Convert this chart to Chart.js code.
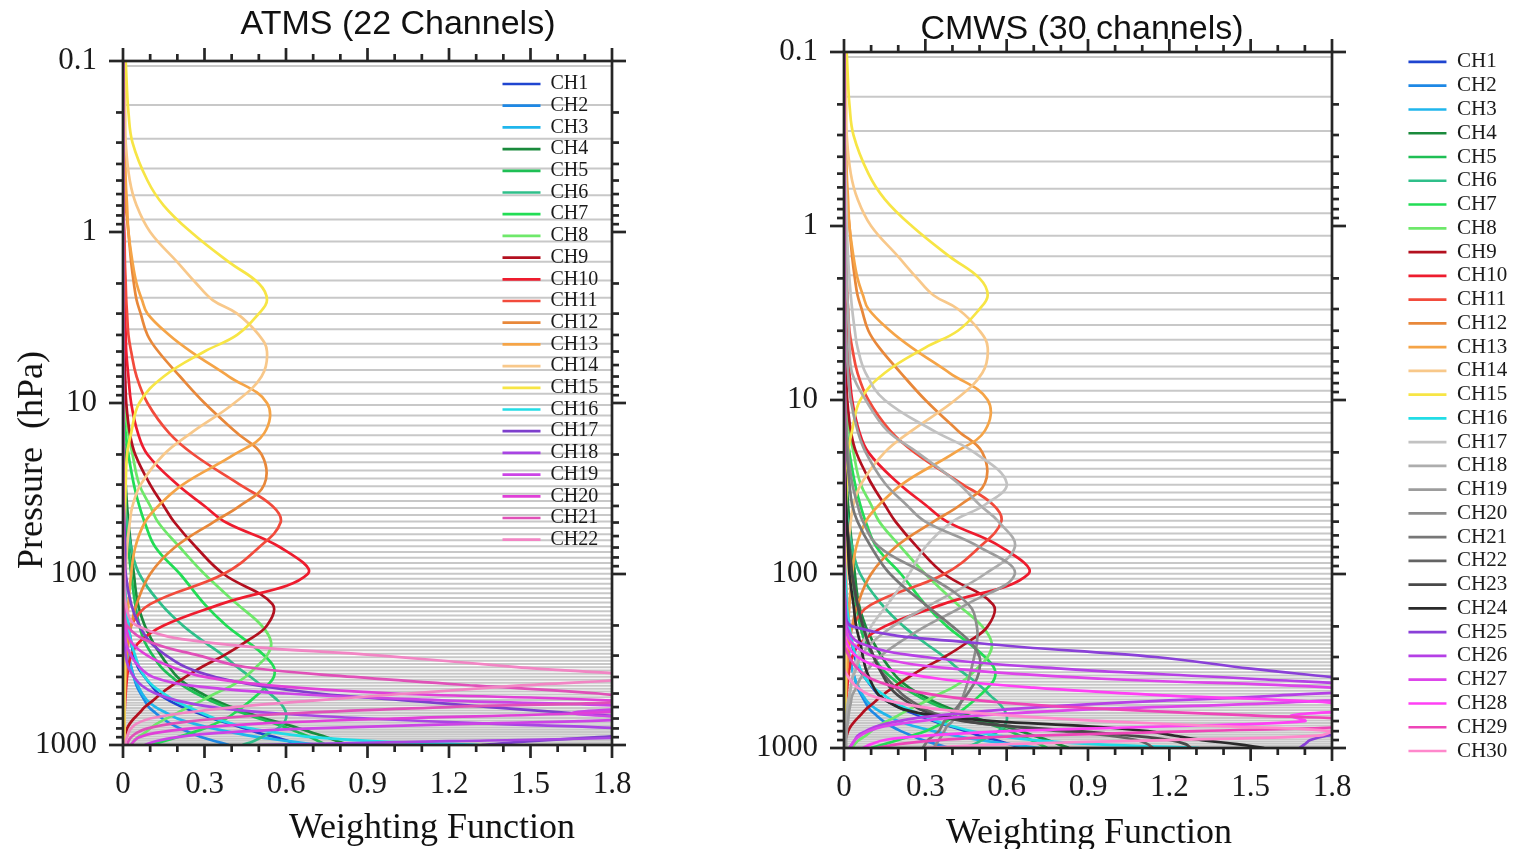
<!DOCTYPE html>
<html>
<head>
<meta charset="utf-8">
<script src="https://cdn.jsdelivr.net/npm/chart.js@4.4.1/dist/chart.umd.min.js"></script>
<style>
  html,body{margin:0;padding:0;background:#fff;}
  body{width:1517px;height:849px;position:relative;overflow:hidden;}
  canvas{position:absolute;top:0;}
  .t{position:absolute;transform:translate(-50%,-50%);line-height:1;white-space:pre;color:#111;}
  .sans{font-family:"Liberation Sans",Arial,sans-serif;}
  .serif{font-family:"Liberation Serif","Times New Roman",serif;}
</style>
</head>
<body>
<canvas id="c1" width="660" height="849" style="left:0px"></canvas>
<canvas id="c2" width="817" height="849" style="left:700px"></canvas>
<div class="t sans" style="left:398px;top:22px;font-size:34px">ATMS (22 Channels)</div>
<div class="t sans" style="left:1082px;top:27px;font-size:34px">CMWS (30 channels)</div>
<div class="t serif" style="left:30px;top:460px;font-size:36px;transform:translate(-50%,-50%) rotate(-90deg)">Pressure  (hPa)</div>
<div class="t serif" style="left:432px;top:826px;font-size:36px">Weighting Function</div>
<div class="t serif" style="left:1089px;top:831px;font-size:36px">Weighting Function</div>
<script>
// ---------------- data ----------------
const P = [0.1,0.15,0.2,0.3,0.5,0.7,1,1.5,2,2.5,
           3,4,5,7,10,15,20,30,40,50,
           70,100,150,200,250,300,350,400,450,500,
           550,600,650,700,750,800,850,900,950,1000];

const xTicks = [0,0.3,0.6,0.9,1.2,1.5,1.8];
const xMinor = [0,0.1,0.2,0.3,0.4,0.5,0.6,0.7,0.8,0.9,1.0,1.1,1.2,1.3,1.4,1.5,1.6,1.7,1.8];
const yMajor = [0.1,1,10,100,1000];
const yMinor = [0.2,0.3,0.4,0.5,0.6,0.7,0.8,0.9,2,3,4,5,6,7,8,9,20,30,40,50,60,70,80,90,200,300,400,500,600,700,800,900];

// model layer pressures (grey horizontal lines)
const layerP = [0.107,0.1807,0.2849,0.4259,0.6102,0.8447,1.1363,1.4922,1.9199,2.4268,3.0204,3.7084,4.4987,5.399,6.4172,
  7.5611,8.8387,10.2579,11.8265,13.5526,15.4439,17.5083,19.7536,22.1875,24.8178,27.652,30.6977,33.9625,37.4536,41.1784,
  45.1442,49.358,53.8269,58.5578,63.5574,68.8326,74.3897,80.2353,86.3757,92.8171,99.5654,106.627,114.007,121.712,129.746,
  138.116,146.826,155.881,165.287,175.048,185.169,195.655,206.509,217.735,229.338,241.321,253.689,266.444,279.591,293.131,
  307.069,321.406,336.147,351.292,366.845,382.809,399.184,415.972,433.176,450.797,468.837,487.296,506.175,525.476,545.2,
  565.346,585.916,606.909,628.326,650.166,672.43,695.116,718.226,741.757,765.709,790.081,814.871,840.08,865.704,891.743,
  918.195,945.058,972.329];

// ATMS weighting functions (one value per P level)
const a1 = [0,0,0,0,0,0,0,0,0,0, 0,0,0,0,0,0,0,0,0,.002, .003,.006,.012,.02,.03,.04,.055,.08,.105,.13, .17,.22,.275,.33,.39,.45,.5,.56,.61,.655];
const a2 = [0,0,0,0,0,0,0,0,0,0, 0,0,0,0,0,0,0,0,0,0, .001,.003,.006,.01,.015,.02,.03,.04,.05,.065, .08,.095,.12,.145,.175,.21,.25,.29,.34,.39];
const a3 = [0,0,0,0,0,0,0,0,0,0, 0,0,0,0,0,0,0,0,0,.001, .002,.004,.007,.01,.015,.02,.03,.04,.055,.07, .09,.12,.16,.2,.26,.33,.41,.5,.61,.72];
const a4 = [0,0,0,0,0,0,0,0,0,0, 0,0,0,0,0,.003,.006,.01,.015,.02, .03,.04,.055,.08,.11,.14,.17,.2,.24,.29, .34,.4,.46,.52,.59,.65,.7,.75,.79,.83];
const a5 = [0,0,0,0,0,0,0,0,0,0, 0,0,0,0,0,0,.002,.005,.008,.012, .02,.03,.045,.06,.08,.11,.14,.18,.22,.27, .32,.38,.44,.5,.56,.61,.65,.69,.72,.75];
const a6 = [0,0,0,0,0,0,0,0,0,0, 0,0,0,0,0,0,0,.005,.008,.015, .03,.06,.14,.22,.3,.37,.42,.47,.51,.54, .57,.59,.6,.6,.59,.57,.54,.51,.48,.44];
const a7 = [0,0,0,0,0,0,0,0,0,0, 0,0,0,0,0,.01,.02,.04,.06,.08, .12,.21,.3,.38,.46,.52,.555,.555,.53,.5, .47,.44,.41,.38,.34,.3,.25,.2,.15,.1];
const a8 = [0,0,0,0,0,0,0,0,0,0, 0,0,0,0,.005,.02,.035,.06,.1,.13, .21,.3,.42,.51,.545,.53,.49,.45,.4,.34, .29,.24,.2,.16,.125,.1,.08,.055,.04,.03];
const a9 = [0,0,0,0,0,0,0,0,0,0, 0,0,.005,.008,.012,.025,.045,.1,.15,.19, .27,.37,.55,.53,.45,.37,.29,.23,.18,.14, .11,.08,.06,.04,.025,.015,.01,.005,.003,.002];
const a10 = [0,0,0,0,0,0,.003,.004,.005,.006, .007,.01,.012,.02,.03,.055,.09,.2,.3,.38, .58,.68,.36,.15,.06,.03,.02,.015,.012,.01, .008,.007,.006,.006,.005,.005,.004,.004,.004,.004];
const a11 = [0,0,0,0,0,0,.005,.007,.01,.012, .015,.02,.03,.05,.09,.17,.26,.43,.55,.58, .5,.37,.1,.03,.015,.01,.008,.006,.005,.005, .004,.004,.004,.003,.003,.003,.003,.003,.003,.003];
const a12 = [0,0,0,0,.005,.01,.02,.03,.04,.05, .065,.09,.13,.21,.3,.42,.51,.52,.43,.33, .19,.1,.05,.03,.02,.015,.012,.01,.008,.007, .006,.005,.005,.004,.004,.004,.003,.003,.003,.003];
const a13 = [.003,.004,.005,.007,.01,.015,.02,.035,.05,.07, .09,.17,.25,.39,.53,.52,.41,.22,.13,.08, .045,.03,.02,.015,.012,.01,.009,.008,.007,.007, .006,.006,.005,.005,.005,.005,.004,.004,.004,.004];
const a14 = [.005,.006,.008,.01,.025,.05,.1,.2,.27,.33, .42,.5,.53,.51,.41,.25,.15,.065,.035,.025, .015,.01,.008,.007,.006,.006,.005,.005,.005,.005, .005,.005,.005,.005,.005,.005,.005,.005,.005,.005];
const a15 = [.01,.015,.02,.035,.09,.15,.25,.39,.5,.53, .5,.42,.3,.15,.06,.03,.015,.01,.008,.006, .005,.004,.004,.004,.004,.004,.004,.004,.004,.004, .004,.004,.004,.004,.004,.004,.004,.004,.004,.004];
const a16 = [0,0,0,0,0,0,0,0,0,0, 0,0,0,0,0,0,0,0,0,0, 0,.005,.01,.02,.03,.045,.06,.08,.11,.15, .19,.24,.29,.34,.4,.47,.57,.7,.92,1.31];
const a17 = [0,0,0,0,0,0,0,0,0,0, 0,0,0,0,0,0,0,0,.003,.005, .008,.01,.03,.06,.1,.16,.23,.34,.5,.72, 1.05,1.35,1.65,1.95,2.2,2.2,2,1.75,1.5,1.32];
const a18 = [0,0,0,0,0,0,0,0,0,0, 0,0,0,0,0,0,0,0,0,0, 0,0,0,.005,.008,.01,.02,.04,.07,.12, .2,.33,.55,.9,1.35,1.85,2.1,1.9,1.2,.5];
const a19 = [0,0,0,0,0,0,0,0,0,0, 0,0,0,0,0,0,0,0,0,0, 0,0,.003,.006,.01,.03,.06,.11,.25,.6, 1.2,1.9,1.65,1.9,1.3,.7,.35,.2,.12,.08];
const a20 = [0,0,0,0,0,0,0,0,0,0, 0,0,0,0,0,0,0,0,0,0, 0,.002,.005,.01,.03,.09,.18,.3,.55,1, 1.8,2,1.7,1,.5,.25,.12,.06,.04,.03];
const a21 = [0,0,0,0,0,0,0,0,0,0, 0,0,0,0,0,0,0,0,0,0, 0,.003,.005,.015,.1,.28,.45,.85,1.3,1.75, 1.9,1.2,.65,.35,.18,.09,.05,.03,.02,.015];
const a22 = [0,0,0,0,0,0,0,0,0,0, 0,0,0,0,0,0,0,0,0,0, .002,.005,.01,.05,.3,.95,1.45,1.9,1.45,1.05, .7,.41,.22,.1,.05,.03,.02,.015,.01,.01];

// CMWS channels 17-30 (channels 1-16 follow the same curves as ATMS 1-16)
const c17 = [0,0,0,.003,.005,.008,.01,.015,.02,.025, .03,.04,.05,.08,.15,.33,.48,.6,.52,.4, .3,.24,.16,.1,.07,.05,.04,.03,.025,.02, .015,.012,.01,.01,.008,.008,.007,.006,.005,.005];
const c18 = [0,0,0,0,0,0,.005,.007,.01,.012, .015,.018,.02,.03,.08,.16,.27,.42,.5,.57, .63,.52,.32,.18,.1,.06,.045,.03,.025,.02, .015,.012,.01,.01,.008,.008,.007,.006,.005,.005];
const c19 = [0,0,0,0,0,0,0,0,0,0, .005,.007,.01,.015,.025,.05,.08,.15,.23,.3, .5,.63,.45,.3,.2,.13,.09,.06,.045,.03, .025,.02,.017,.015,.012,.01,.009,.008,.008,.008];
const c20 = [0,0,0,0,0,0,0,0,0,0, 0,0,0,0,.005,.01,.015,.03,.05,.07, .13,.3,.46,.49,.49,.48,.47,.46,.45,.44, .43,.42,.41,.4,.38,.37,.36,.35,.34,.33];
const c21 = [0,0,0,0,0,0,0,0,0,0, 0,0,0,0,0,.005,.01,.02,.03,.05, .1,.17,.3,.4,.47,.5,.5,.49,.47,.45, .43,.41,.39,.37,.36,.35,.33,.31,.3,.29];
const c22 = [0,0,0,0,0,0,0,0,0,0, 0,0,0,0,0,0,0,.005,.007,.01, .02,.03,.05,.07,.09,.11,.13,.16,.19,.22, .26,.3,.36,.45,.6,.8,.98,1.08,1.12,1.14];
const c23 = [0,0,0,0,0,0,0,0,0,0, 0,0,0,0,0,0,0,.005,.007,.01, .02,.03,.05,.07,.09,.11,.13,.15,.17,.2, .24,.28,.34,.44,.62,.86,1.06,1.2,1.26,1.28];
const c24 = [0,0,0,0,0,0,0,0,0,0, 0,0,0,0,0,0,0,.005,.007,.01, .015,.02,.035,.045,.06,.07,.08,.095,.11,.13, .17,.22,.33,.55,.9,1.12,1.22,1.32,1.45,1.55];
const c25 = [0,0,0,0,0,0,0,0,0,0, 0,0,0,0,0,0,0,0,0,0, 0,.002,.005,.03,.5,1.15,1.5,1.85,2.1,2.2, 2.2,2.2,2.15,2.1,2,1.9,1.78,1.72,1.7,1.68];
const c26 = [0,0,0,0,0,0,0,0,0,0, 0,0,0,0,0,0,0,0,0,0, 0,0,.005,.01,.06,.3,.8,1.5,2,1.6, 1,.6,.35,.2,.12,.08,.05,.04,.03,.02];
const c27 = [0,0,0,0,0,0,0,0,0,0, 0,0,0,0,0,0,0,0,0,0, 0,0,0,.005,.03,.12,.4,.95,1.8,2, 1.6,.9,.5,.28,.15,.09,.06,.04,.03,.02];
const c28 = [0,0,0,0,0,0,0,0,0,0, 0,0,0,0,0,0,0,0,0,0, 0,0,0,0,.01,.05,.15,.35,.7,1.2, 1.8,1.9,1.65,1.7,1.2,.6,.3,.15,.1,.07];
const c29 = [0,0,0,0,0,0,0,0,0,0, 0,0,0,0,0,0,0,0,0,0, 0,0,0,0,0,.02,.05,.1,.2,.35, .6,1,1.5,2,1.9,1.3,.7,.35,.2,.12];
const c30 = [0,0,0,0,0,0,0,0,0,0, 0,0,0,0,0,0,0,0,0,0, 0,0,0,0,0,0,0,.02,.05,.1, .2,.35,.6,.95,1.4,1.8,1.75,1.2,.6,.3];

const baseColors = ['#1f45d0','#1e88e5','#20b6ec','#1a8a3c','#1fbf55','#2fbf8a','#22dd55','#6ee86a',
  '#b3101f','#ee1c2e','#f24b3c','#e8883a','#f5a447','#f8c88a','#f7e545','#22dde6'];
const atmsColors = baseColors.concat(['#7d3fcc','#a845e3','#cc44e6','#e040d8','#e050b8','#f285c4']);
const cmwsColors = baseColors.concat(['#c2c2c2','#adadad','#9c9c9c','#8c8c8c','#777777','#636363','#484848','#2a2a2a',
  '#8a40d8','#b540e6','#dd45ea','#ff40f5','#ee45b8','#ff88cc']);

const atmsSeries = [a1,a2,a3,a4,a5,a6,a7,a8,a9,a10,a11,a12,a13,a14,a15,a16,a17,a18,a19,a20,a21,a22];
const cmwsSeries = [a1,a2,a3,a4,a5,a6,a7,a8,a9,a10,a11,a12,a13,a14,a15,a16,c17,c18,c19,c20,c21,c22,c23,c24,c25,c26,c27,c28,c29,c30];

// ---------------- helpers ----------------
const near = (arr, v) => arr.some(t => Math.abs(t - v) < 1e-9);

function toDatasets(series, colors) {
  return series.map((w, i) => ({
    label: 'CH' + (i + 1),
    data: P.map((p, j) => ({x: w[j], y: p})),
    borderColor: colors[i],
    backgroundColor: colors[i],
    borderWidth: 2.7,
    pointRadius: 0,
    tension: 0.4,
    fill: false,
    order: -i
  }));
}

function makeFrame(legX, legY) {
  return {
    id: 'frame',
    afterLayout(chart) {
      const lg = chart.legend;
      if (!lg) return;
      lg.left = legX; lg.top = legY; lg.right = legX + lg.width; lg.bottom = chart.height;
    },
    beforeDraw(chart) {
      const {ctx, chartArea: a} = chart;
      const ys = chart.scales.y;
      ctx.save();
      ctx.strokeStyle = '#c8c8c8';
      ctx.lineWidth = 2;
      layerP.forEach(p => {
        const py = ys.getPixelForValue(p);
        ctx.beginPath(); ctx.moveTo(a.left, py); ctx.lineTo(a.right, py); ctx.stroke();
      });
      ctx.restore();
    },
    afterDatasetsDraw(chart) {
      const {ctx, chartArea: a} = chart;
      const xs = chart.scales.x, ys = chart.scales.y;
      ctx.save();
      ctx.strokeStyle = '#262626';
      ctx.lineWidth = 2.7;
      const seg = (x1, y1, x2, y2) => { ctx.beginPath(); ctx.moveTo(x1, y1); ctx.lineTo(x2, y2); ctx.stroke(); };
      ctx.strokeRect(a.left, a.top, a.right - a.left, a.bottom - a.top);
      xMinor.forEach(v => {
        const px = xs.getPixelForValue(v);
        const L = near(xTicks, v) ? 13 : 7;
        seg(px, a.bottom, px, a.bottom + L);
        seg(px, a.top, px, a.top - L);
      });
      yMajor.concat(yMinor).forEach(v => {
        const py = ys.getPixelForValue(v);
        const L = near(yMajor, v) ? 14 : 7;
        seg(a.left - L, py, a.left, py);
        seg(a.right, py, a.right + L, py);
      });
      ctx.restore();
    }
  };
}

function makeChart(canvasId, series, colors, geo) {
  const tickFont = {family: 'Liberation Serif', size: 31};
  return new Chart(document.getElementById(canvasId), {
    type: 'line',
    data: {datasets: toDatasets(series, colors)},
    plugins: [makeFrame(geo.legX, geo.legY)],
    options: {
      responsive: false,
      animation: false,
      devicePixelRatio: 1,
      indexAxis: 'y',
      events: [],
      layout: {padding: {left: 0, top: geo.top, right: geo.right, bottom: 0}},
      scales: {
        x: {
          type: 'linear', min: 0, max: 1.8, position: 'bottom',
          afterBuildTicks: s => { s.ticks = xTicks.map(v => ({value: v})); },
          afterFit: s => { s.height = geo.xh; },
          ticks: {callback: v => (v === 0 ? '0' : Number(v).toFixed(1)), font: tickFont, color: '#1a1a1a',
                  padding: 21, maxRotation: 0, autoSkip: false},
          grid: {display: false, drawTicks: false},
          border: {display: false}
        },
        y: {
          type: 'logarithmic', min: 0.1, max: 1000, reverse: true, position: 'left',
          afterBuildTicks: s => { s.ticks = yMajor.map(v => ({value: v, major: true})); },
          afterFit: s => { s.width = geo.yw; },
          ticks: {callback: v => String(v), font: tickFont, color: '#1a1a1a', padding: 26, autoSkip: false},
          grid: {display: false, drawTicks: false},
          border: {display: false}
        }
      },
      plugins: {
        tooltip: {enabled: false},
        title: {display: false},
        legend: {
          position: 'chartArea',
          align: 'start',
          labels: {
            usePointStyle: true, pointStyle: 'line', pointStyleWidth: 38,
            font: {family: 'Liberation Serif', size: geo.lf}, color: '#1a1a1a', padding: geo.lp,
            sort: (a, b) => a.datasetIndex - b.datasetIndex
          }
        }
      }
    }
  });
}

makeChart('c1', atmsSeries, atmsColors, {top: 61, right: 48, xh: 104, yw: 123, legX: 500.8, legY: 72.3, lf: 20, lp: 1.7});
makeChart('c2', cmwsSeries, cmwsColors, {top: 52, right: 185, xh: 101, yw: 144, legX: 705.7, legY: 48.7, lf: 21, lp: 2.76});
</script>
</body>
</html>
